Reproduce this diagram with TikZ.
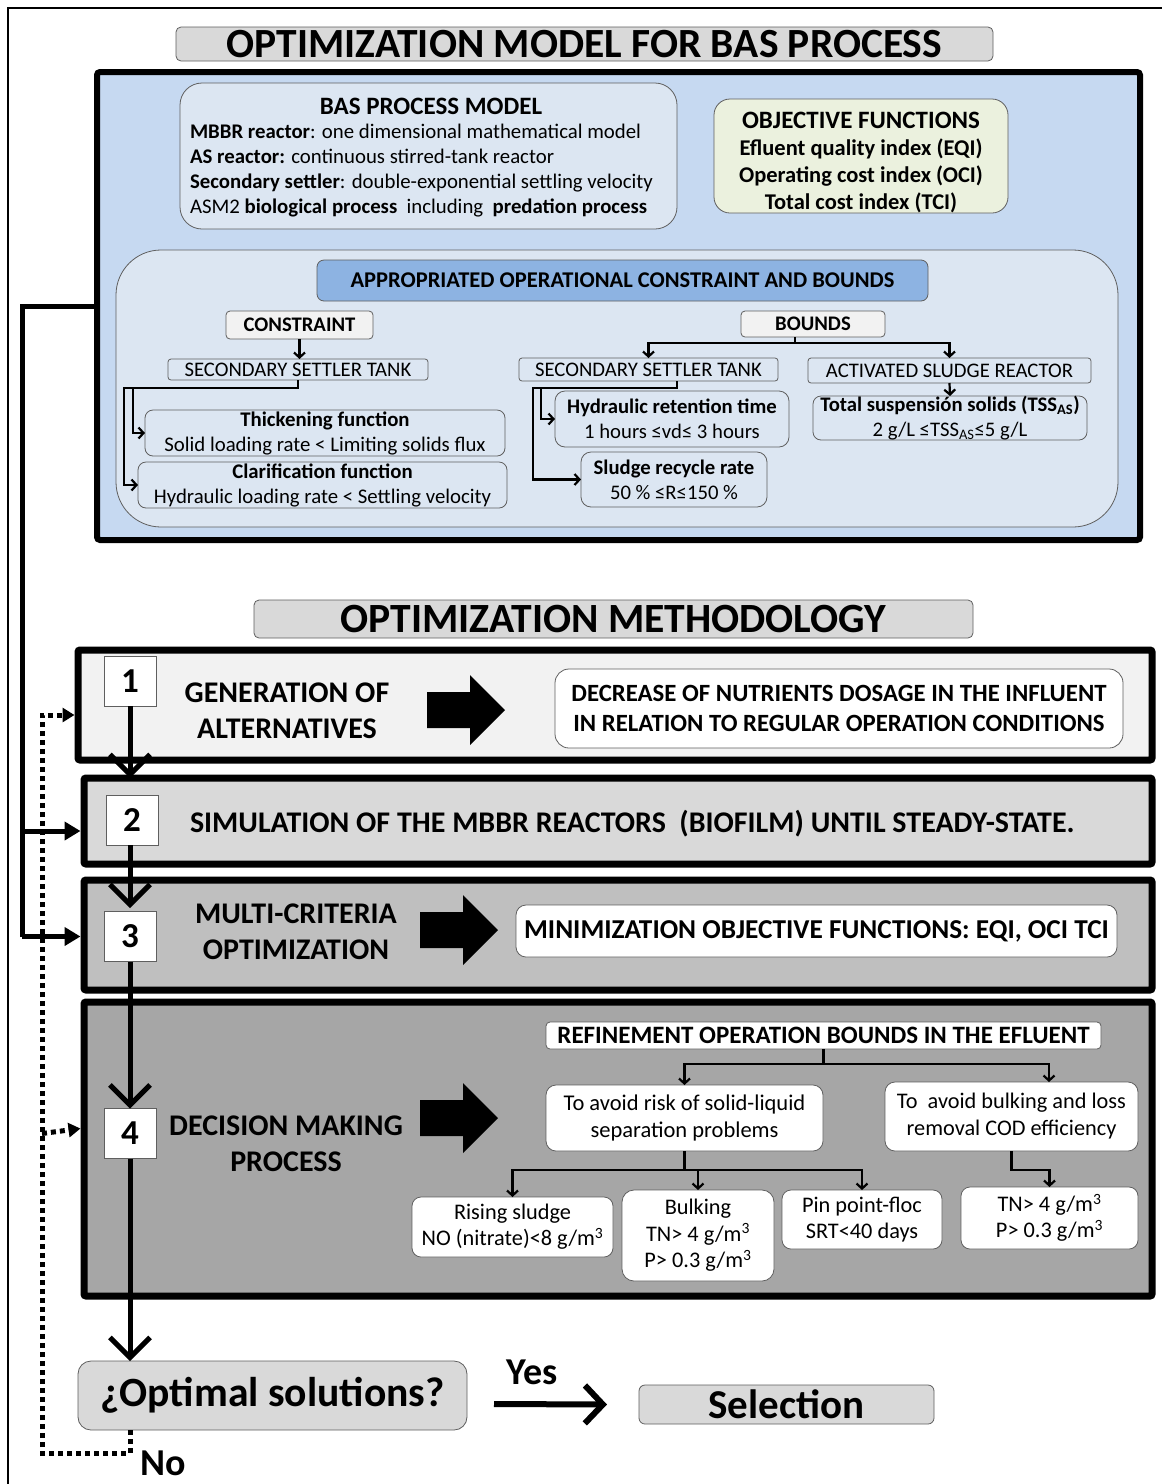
\documentclass[tikz,border=0pt]{standalone}
\usepackage{fontspec}
\setmainfont{Carlito}
\usetikzlibrary{arrows.meta,calc}
\definecolor{panelblue}{RGB}{198,217,241}
\definecolor{lightblue}{RGB}{220,230,242}
\definecolor{headblue}{RGB}{141,179,226}
\definecolor{objgreen}{RGB}{235,241,222}
\definecolor{gA}{RGB}{242,242,242}
\definecolor{gB}{RGB}{217,217,217}
\definecolor{gC}{RGB}{191,191,191}
\definecolor{gD}{RGB}{166,166,166}
\definecolor{edgegray}{RGB}{95,95,95}
\newcommand{\fsz}[2]{\fontsize{#1}{#2}\selectfont}
\newcommand{\blockarrow}[2]{\fill[black] (#1,#2-18) -- (#1+43,#2-18) -- (#1+43,#2-35) -- (#1+78,#2) -- (#1+43,#2+35) -- (#1+43,#2+18) -- (#1,#2+18) -- cycle;}
\begin{document}
\begin{tikzpicture}[x=1pt,y=-1pt,
  every node/.style={inner sep=0pt,outer sep=0pt},
  sz/.style 2 args={minimum width=#1,minimum height=#2},
  rbox/.style={draw=edgegray,line width=0.8pt,rounded corners=6pt},
  bigbox/.style={draw=black,line width=7pt,rounded corners=2pt},
  numbox/.style={draw=edgegray,line width=0.8pt,fill=white,minimum width=52,minimum height=50,font=\bfseries\fsz{35}{35}},
  steptext/.style={font=\bfseries\fsz{30}{36},align=center},
  sm/.style={line width=2.2pt,-{Straight Barb[length=5pt,width=11pt]}},
  flow/.style={line width=5pt,-{Straight Barb[length=20pt,width=40pt]}},
  trunkline/.style={line width=5pt},
  dotline/.style={line width=5pt,dash pattern=on 5pt off 4pt},
]
\useasboundingbox (0,0) rectangle (1162,1484);
\fill[white] (0,0) rectangle (1162,1484);
% outer frame
\draw[line width=1.5pt] (1162,8) -- (8,8) -- (8,1484);

% ---------------- top part ----------------
\node[rbox,fill=gB,sz={817}{34},rounded corners=5pt,font=\bfseries\fsz{41.5}{41.5}] (title1) at (584.5,44) {OPTIMIZATION MODEL FOR BAS PROCESS};

\node[draw=black,line width=6pt,fill=panelblue,sz={1043}{468},rounded corners=3pt] (panel) at (618.5,306) {};

\node[rbox,fill=lightblue,sz={497}{146},rounded corners=22pt] (bas) at (428.5,156) {};
\node[font=\bfseries\fsz{25}{25}] (bastitle) at (431,106) {BAS PROCESS MODEL};
\node[font=\fsz{20.8}{25},align=left,anchor=west] (baslines) at (190,170.5) {\textbf{MBBR reactor}: one dimensional mathematical model\\ \textbf{AS reactor:} continuous stirred-tank reactor\\ \textbf{Secondary settler}: double-exponential settling velocity\\ ASM2 \textbf{biological process}\ \ including\ \ \textbf{predation process}};

\node[rbox,fill=objgreen,sz={294}{114},rounded corners=16pt] (obj) at (861,156) {};
\node[font=\bfseries\fsz{22.5}{27},align=center] (objtext) at (861,162) {{\fsz{25}{27}OBJECTIVE FUNCTIONS}\\ Efluent quality index (EQI)\\ Operating cost index (OCI)\\ Total cost index (TCI)};

\node[rbox,fill=lightblue,sz={1002}{277},rounded corners=45pt] (cregion) at (617,388.5) {};
\node[rbox,fill=headblue,sz={611}{41},rounded corners=7pt,font=\bfseries\fsz{22.5}{22.5}] (hdr) at (622.5,280.5) {APPROPRIATED OPERATIONAL CONSTRAINT AND BOUNDS};

\node[rbox,fill=gA,sz={147}{28},rounded corners=4pt,font=\bfseries\fsz{20.7}{20.7}] (cons) at (299.5,325) {CONSTRAINT};
\node[rbox,fill=lightblue,sz={260}{21},rounded corners=3pt,font=\fsz{20.7}{20.7}] (sstL) at (298,369.5) {SECONDARY SETTLER TANK};
\node[rbox,fill=lightblue,sz={360}{46},rounded corners=8pt,font=\fsz{20.8}{25},align=center] (thick) at (325,433) {\textbf{Thickening function}\\ Solid loading rate < Limiting solids flux};
\node[rbox,fill=lightblue,sz={369}{46},rounded corners=8pt,font=\fsz{20.8}{25},align=center] (clar) at (322.5,485) {\textbf{Clarification function}\\ Hydraulic loading rate < Settling velocity};

\node[rbox,fill=gA,sz={144}{26},rounded corners=4pt,font=\bfseries\fsz{20.7}{20.7}] (bounds) at (813,324) {BOUNDS};
\node[rbox,fill=lightblue,sz={259}{23},rounded corners=3pt,font=\fsz{20.7}{20.7}] (sstR) at (648.5,369.5) {SECONDARY SETTLER TANK};
\node[rbox,fill=lightblue,sz={283}{25},rounded corners=3pt,font=\fsz{20.7}{20.7}] (asr) at (949.5,370.5) {ACTIVATED SLUDGE REACTOR};
\node[rbox,fill=lightblue,sz={274}{44},rounded corners=8pt,font=\fsz{20.7}{25},align=center] (tss) at (950,418) {\textbf{Total suspensión solids (TSS\textsubscript{AS})}\\ 2 g/L ≤TSS\textsubscript{AS}≤5 g/L};
\node[rbox,fill=lightblue,sz={234}{56},rounded corners=10pt,font=\fsz{20.7}{25},align=center] (hrt) at (672,419) {\textbf{Hydraulic retention time}\\ 1 hours ≤vd≤ 3 hours};
\node[rbox,fill=lightblue,sz={186}{55},rounded corners=10pt,font=\fsz{20.7}{25},align=center] (sludge) at (674,479.5) {\textbf{Sludge recycle rate}\\ 50 \% ≤R≤150 \%};

% connectors in panel
\draw[sm] (cons.south) -- (cons.south |- sstL.north);
\draw[sm] (sstL.south) |- (133,388) |- (thick.west);
\draw[sm] (sstL.south) |- (124,388) |- (clar.west);
\coordinate (bj) at (795,343);
\draw[sm] (bj |- bounds.south) -- (bj) -| (sstR.north);
\draw[sm] (bj) -| (asr.north);
\draw[sm] (asr.south) -- (tss.north);
\coordinate (sj) at (677,388);
\draw[sm] (sj |- sstR.south) -- (sj) -- (541,388) |- (hrt.west);
\draw[sm] (sj) -- (533,388) |- (sludge.west);

% ---------------- methodology ----------------
\node[rbox,fill=gB,sz={719}{38},rounded corners=5pt,font=\bfseries\fsz{41.6}{41.6}] (title2) at (613.5,619) {OPTIMIZATION METHODOLOGY};

\node[bigbox,fill=gA,sz={1074}{110}] (b1) at (615,705) {};
\node[bigbox,fill=gB,sz={1068}{86}] (b2) at (618,821) {};
\node[bigbox,fill=gC,sz={1068}{110}] (b3) at (618,935) {};
\node[bigbox,fill=gD,sz={1068}{294}] (b4) at (618,1149) {};

\node[numbox] (n1) at (130,681) {1};
\node[numbox] (n2) at (132,820) {2};
\node[numbox] (n3) at (130,936.5) {3};
\node[numbox] (n4) at (130,1133.5) {4};

\node[steptext] (t1) at (287,710.5) {GENERATION OF\\ ALTERNATIVES};
\node[font=\bfseries\fsz{30}{30},anchor=west] (t2) at (190,824) {SIMULATION OF THE MBBR REACTORS\ \ (BIOFILM) UNTIL STEADY-STATE.};
\node[steptext] (t3) at (296,932) {MULTI-CRITERIA\\ OPTIMIZATION};
\node[steptext] (t4) at (286,1144) {DECISION MAKING\\ PROCESS};

\blockarrow{427}{710}
\blockarrow{420}{930}
\blockarrow{420}{1118}

\node[rbox,fill=white,sz={568}{79},rounded corners=14pt,font=\bfseries\fsz{24.8}{30},align=center] (d1) at (839,708.5) {DECREASE OF NUTRIENTS DOSAGE IN THE INFLUENT\\ IN RELATION TO REGULAR OPERATION CONDITIONS};
\node[rbox,fill=white,sz={601}{52},rounded corners=10pt,font=\bfseries\fsz{27.3}{27.3}] (d3) at (816.5,931) {MINIMIZATION OBJECTIVE FUNCTIONS: EQI, OCI TCI};

\node[rbox,fill=white,sz={555}{27},rounded corners=4pt,font=\bfseries\fsz{25}{25}] (ref) at (823.5,1035.5) {REFINEMENT OPERATION BOUNDS IN THE EFLUENT};
\node[rbox,fill=white,sz={277}{66},rounded corners=10pt,font=\fsz{22.5}{27},align=center] (sl) at (684.5,1118) {To avoid risk of solid-liquid\\ separation problems};
\node[rbox,fill=white,sz={253}{69},rounded corners=10pt,font=\fsz{22.3}{27},align=center] (bl) at (1011.5,1116.5) {To\ \ avoid bulking and loss\\ removal COD efficiency};
\node[rbox,fill=white,sz={201}{60},rounded corners=9pt,font=\fsz{22.3}{26},align=center] (rising) at (512.5,1227) {Rising sludge\\ NO (nitrate)<8 g/m\textsuperscript{3}};
\node[rbox,fill=white,sz={152}{91},rounded corners=12pt,font=\fsz{22.3}{26.5},align=center] (bulk) at (698,1235.5) {Bulking\\ TN> 4 g/m\textsuperscript{3}\\ P> 0.3 g/m\textsuperscript{3}};
\node[rbox,fill=white,sz={160}{59},rounded corners=9pt,font=\fsz{22.3}{26},align=center] (pin) at (862,1219.5) {Pin point-floc\\ SRT<40 days};
\node[rbox,fill=white,sz={177}{62},rounded corners=9pt,font=\fsz{22.3}{26},align=center] (tn) at (1049.5,1218) {TN> 4 g/m\textsuperscript{3}\\ P> 0.3 g/m\textsuperscript{3}};

\coordinate (rj) at (823.5,1064);
\draw[sm] (ref.south) -- (rj) -| (sl.north);
\draw[sm] (rj) -| ($(bl.north)+(37.5,0)$);
\coordinate (lj) at (684.5,1170);
\draw[sm] (sl.south) -- (lj) -| (rising.north);
\draw[sm] (lj) -| (bulk.north);
\draw[sm] (lj) -| (pin.north);
\draw[sm] (bl.south) |- (1030,1170) -| (tn.north);

% main flow arrows
\draw[flow] (n1.south) -- (n1.south |- b2.north);
\draw[flow] (130,845) -- (130,908);
\draw[flow] (n3.south) -- (n4.north);

\node[rbox,fill=gB,sz={389}{69},rounded corners=13pt,font=\bfseries\fsz{41.6}{41.6}] (opt) at (272.5,1395.5) {¿Optimal solutions?};
\node[rbox,fill=gB,sz={295}{39},rounded corners=6pt,font=\bfseries\fsz{41}{41}] (sel) at (786.5,1404.5) {Selection};
\draw[flow] (n4.south) -- (n4.south |- opt.north);
\draw[line width=6pt,-{Straight Barb[length=18pt,width=38pt]}] (494,1404) -- ($(sel.west)+(-32,0)$);
\node[font=\bfseries\fsz{38}{38}] (yes) at (532,1372) {Yes};
\node[font=\bfseries\fsz{38}{38}] (no) at (163,1463) {No};

% trunk from model to steps 2 and 3
\coordinate (trunk) at (22,306);
\draw[trunkline] (panel.west) -- (trunk) -- (trunk |- n3);
\draw[trunkline,-{Triangle[length=16pt,width=18pt]}] ($(trunk |- b2.west)+(0,10)$) -- ($(b2.west)+(-3.5,10)$);
\draw[trunkline,-{Triangle[length=16pt,width=18pt]}] (trunk |- n3) -- ($(b3.west |- n3)+(-3.5,0)$);

% dotted feedback
\coordinate (fb) at (42,1453);
\draw[dotline,-{Triangle[length=12pt,width=14pt]}] (n4 |- opt.south) |- (fb) |- ($(b1.west)+(-3.5,10)$);
\draw[dotline,-{Triangle[length=12pt,width=14pt]}] (fb |- n4) -- ($(b4.west |- n4)+(-3.5,-5)$);
\end{tikzpicture}
\end{document}
